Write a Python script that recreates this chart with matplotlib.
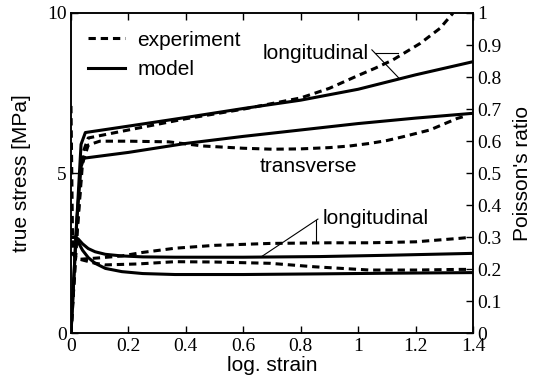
import matplotlib

matplotlib.use("Agg")

import matplotlib.pyplot as plt

# stress curves (left axis, MPa)
strain_long_model = [0, 0.02, 0.035, 0.05, 0.2, 0.4, 0.6, 0.8, 1.0, 1.2, 1.4]
stress_long_model = [0, 3.5, 5.9, 6.27, 6.47, 6.74, 7.02, 7.28, 7.62, 8.07, 8.48]

strain_long_exp = [0, 0.02, 0.04, 0.06, 0.2, 0.4, 0.6, 0.8, 0.9, 1.0, 1.06, 1.12, 1.216, 1.285, 1.33]
stress_long_exp = [0, 3.0, 5.6, 6.1, 6.35, 6.7, 7.0, 7.35, 7.65, 8.05, 8.28, 8.53, 9.05, 9.52, 9.99]

strain_trans_model = [0, 0.02, 0.035, 0.045, 0.2, 0.4, 0.6, 0.8, 1.0, 1.2, 1.4]
stress_trans_model = [0, 3.5, 5.2, 5.47, 5.65, 5.93, 6.15, 6.35, 6.55, 6.72, 6.87]

strain_trans_exp = [0, 0.02, 0.04, 0.06, 0.1, 0.2, 0.34, 0.46, 0.6, 0.7, 0.8, 0.9, 0.97, 1.04, 1.1,
                    1.157, 1.25, 1.345, 1.38]
stress_trans_exp = [0, 3.0, 5.3, 5.88, 6.0, 6.0, 5.98, 5.85, 5.78, 5.75, 5.76, 5.8, 5.85, 5.93, 6.02,
                    6.14, 6.35, 6.71, 6.8]

# Poisson's ratio curves (right axis)
strain_nu_model = [0, 0.015, 0.025, 0.04, 0.06, 0.084, 0.12, 0.177, 0.25, 0.362, 0.6, 0.867, 1.1, 1.4]
nu_up_model = [0.30, 0.30, 0.295, 0.28, 0.265, 0.255, 0.247, 0.242, 0.239, 0.238, 0.238, 0.24, 0.244, 0.25]
nu_low_model = [0.30, 0.30, 0.285, 0.26, 0.237, 0.219, 0.203, 0.193, 0.187, 0.184, 0.184, 0.186, 0.188, 0.19]

strain_nu_up_exp = [0, 0.006, 0.02, 0.037, 0.1, 0.177, 0.25, 0.362, 0.5, 0.693, 0.9, 1.04, 1.2, 1.355, 1.39]
nu_up_exp = [0.71, 0.25, 0.23, 0.232, 0.236, 0.242, 0.253, 0.266, 0.275, 0.281, 0.283, 0.283, 0.286, 0.297, 0.30]

strain_nu_low_exp = [0, 0.006, 0.02, 0.037, 0.08, 0.118, 0.234, 0.362, 0.5, 0.693, 0.85, 1.04, 1.2, 1.355, 1.39]
nu_low_exp = [0.25, 0.25, 0.235, 0.23, 0.22, 0.214, 0.217, 0.224, 0.223, 0.219, 0.208, 0.198, 0.198, 0.2, 0.2]

xticks = [0, 0.2, 0.4, 0.6, 0.8, 1, 1.2, 1.4]
xticklabels = ["0", "0.2", "0.4", "0.6", "0.8", "1", "1.2", "1.4"]
yticks_left = [0, 5, 10]
yticks_right = [0, 0.1, 0.2, 0.3, 0.4, 0.5, 0.6, 0.7, 0.8, 0.9, 1]
yticklabels_right = ["0", "0.1", "0.2", "0.3", "0.4", "0.5", "0.6", "0.7", "0.8", "0.9", "1"]

SANS = ["Liberation Sans", "DejaVu Sans"]
SERIF = ["Liberation Serif", "DejaVu Serif"]
LW = 2.2
DASH = (2.4, 1.6)

fig = plt.figure(figsize=(5.35, 3.81), dpi=100)
ax = fig.add_axes([0.1327, 0.1247, 0.7513, 0.8412])
ax2 = ax.twinx()

ax.plot(strain_long_exp, stress_long_exp, "k", lw=LW, dashes=DASH, label="experiment")
ax.plot(strain_long_model, stress_long_model, "k-", lw=LW, label="model")
ax.plot(strain_trans_exp, stress_trans_exp, "k", lw=LW, dashes=DASH)
ax.plot(strain_trans_model, stress_trans_model, "k-", lw=LW)

ax2.plot(strain_nu_up_exp, nu_up_exp, "k", lw=LW, dashes=DASH)
ax2.plot(strain_nu_low_exp, nu_low_exp, "k", lw=LW, dashes=DASH)
ax2.plot(strain_nu_model, nu_up_model, "k-", lw=LW)
ax2.plot(strain_nu_model, nu_low_model, "k-", lw=LW)

ax.set_xlim(0, 1.4)
ax.set_ylim(0, 10)
ax2.set_ylim(0, 1)

ax.set_xticks(xticks)
ax.set_xticklabels(xticklabels, family=SERIF, fontsize=14)
ax.set_yticks(yticks_left)
ax.set_yticklabels([str(v) for v in yticks_left], family=SERIF, fontsize=14)
ax2.set_yticks(yticks_right)
ax2.set_yticklabels(yticklabels_right, family=SERIF, fontsize=14)

ax.tick_params(axis="both", direction="in", length=5, width=1, top=True, pad=3)
ax2.tick_params(axis="y", direction="in", length=5, width=1, pad=3)
for a in (ax, ax2):
    for sp in a.spines.values():
        sp.set_linewidth(1.1)

ax.set_xlabel("log. strain", family=SANS, fontsize=15, labelpad=1)
ax.set_ylabel("true stress [MPa]", family=SANS, fontsize=15, labelpad=12)
ax2.set_ylabel("Poisson's ratio", family=SANS, fontsize=15, labelpad=8)

# annotations with leader lines
ax.text(0.668, 8.75, "longitudinal", family=SANS, fontsize=15, ha="left", va="center")
ax.plot([1.059, 1.14], [8.75, 8.75], "k-", lw=0.8)
ax.plot([1.048, 1.142], [8.85, 7.97], "k-", lw=0.8)
ax.text(0.658, 5.2, "transverse", family=SANS, fontsize=15, ha="left", va="center")
ax2.text(0.878, 0.36, "longitudinal", family=SANS, fontsize=15, ha="left", va="center")
ax2.plot([0.852, 0.852], [0.354, 0.285], "k-", lw=0.8)
ax2.plot([0.86, 0.664], [0.357, 0.24], "k-", lw=0.8)

leg = ax.legend(loc="upper left", frameon=False, prop={"family": SANS, "size": 15},
                handlelength=1.8, handletextpad=0.58, labelspacing=0.5,
                borderaxespad=0.3, bbox_to_anchor=(0.005, 0.99))

fig.savefig("out.png", dpi=100)
